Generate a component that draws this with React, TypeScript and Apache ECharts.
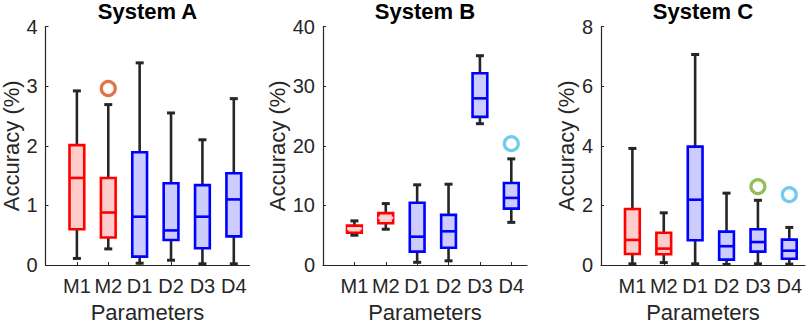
import React, { useEffect, useRef } from "react";
import * as echarts from "echarts";

const categories = ["M1", "M2", "D1", "D2", "D3", "D4"];
const panelTitles = ["System A", "System B", "System C"];
const yMax = [4, 40, 8];
const yInterval = [1, 10, 2];

// [low whisker, Q1, median, Q3, high whisker] per category
const boxesA = [
  [0.11, 0.6, 1.46, 2.01, 2.92],
  [0.27, 0.46, 0.88, 1.46, 2.69],
  [0.03, 0.14, 0.81, 1.89, 3.39],
  [0.08, 0.42, 0.58, 1.37, 2.55],
  [0.02, 0.28, 0.81, 1.34, 2.1],
  [0.02, 0.48, 1.1, 1.54, 2.79],
];
const boxesB = [
  [5.0, 5.4, 6.1, 6.6, 7.4],
  [6.0, 7.0, 7.9, 8.7, 10.3],
  [0.45, 2.25, 4.75, 10.45, 13.45],
  [0.7, 2.9, 5.65, 8.4, 13.55],
  [23.7, 24.85, 27.95, 32.15, 35.1],
  [7.15, 9.45, 11.25, 13.75, 17.8],
];
const boxesC = [
  [0.04, 0.37, 0.84, 1.88, 3.91],
  [0.08, 0.36, 0.55, 1.08, 1.75],
  [0.04, 0.83, 2.19, 3.97, 7.06],
  [0.02, 0.18, 0.63, 1.12, 2.41],
  [0.04, 0.45, 0.77, 1.2, 2.17],
  [0.03, 0.21, 0.48, 0.85, 1.26],
];
// outliers: [category index (1-based), value]
const outliersA = [[2, 2.96]];
const outliersB = [[6, 20.35]];
const outliersC = [[5, 2.63], [6, 2.36]];
const outlierColorsA = ["#D95319"];
const outlierColorsB = ["#4DBEEE"];
const outlierColorsC = ["#77AC30", "#4DBEEE"];

const allBoxes = [boxesA, boxesB, boxesC];
const allOutliers = [outliersA, outliersB, outliersC];
const allOutlierColors = [outlierColorsA, outlierColorsB, outlierColorsC];
// panels whose red (model) boxes show a pale median line
const paleMedianPanels = [1];

const FONT = "'Liberation Sans', Arial, Helvetica, sans-serif";
const AXIS = "#262626";
const gridLefts = [45.5, 323, 601];
const gridWidth = 204;
const gridTop = 26.5;
const gridHeight = 238.5;

export default function App() {
  const ref = useRef<HTMLDivElement>(null);
  useEffect(() => {
    if (!ref.current) return;
    const chart = echarts.init(ref.current, null, { renderer: "svg" });

    const grids = gridLefts.map((l) => ({
      left: l,
      top: gridTop,
      width: gridWidth,
      height: gridHeight,
      containLabel: false,
      outerBoundsMode: "none",
    }));

    const xAxes = gridLefts.map((_, i) => ({
      type: "value",
      gridIndex: i,
      min: 0,
      max: 6.5,
      splitLine: { show: false },
      axisLine: { show: true, lineStyle: { color: AXIS, width: 1.2 } },
      axisTick: {
        show: true,
        inside: true,
        length: 3,
        lineStyle: { color: AXIS },
        customValues: [1, 2, 3, 4, 5, 6],
      },
      axisLabel: {
        customValues: [1, 2, 3, 4, 5, 6],
        formatter: (v: number) => categories[Math.round(v) - 1] ?? "",
        color: AXIS,
        fontSize: 20,
        fontFamily: FONT,
        margin: 11,
      },
      name: "Parameters",
      nameLocation: "middle",
      nameGap: 36,
      nameTextStyle: { color: AXIS, fontSize: 22, fontFamily: FONT },
    }));

    const yAxes = gridLefts.map((_, i) => ({
      type: "value",
      gridIndex: i,
      min: 0,
      max: yMax[i],
      interval: yInterval[i],
      splitLine: { show: false },
      axisLine: { show: true, lineStyle: { color: AXIS, width: 1.2 } },
      axisTick: { show: true, inside: true, length: 3, lineStyle: { color: AXIS } },
      axisLabel: { color: AXIS, fontSize: 20, fontFamily: FONT, margin: 8 },
      name: "Accuracy (%)",
      nameLocation: "middle",
      nameGap: 21,
      nameTextStyle: { color: AXIS, fontSize: 22, fontFamily: FONT },
    }));

    const series: any[] = [];
    allBoxes.forEach((boxes, p) => {
      const data = boxes.map((b, i) => [i + 1, ...b]);
      series.push({
        type: "custom",
        xAxisIndex: p,
        yAxisIndex: p,
        data,
        encode: { x: 0, y: [1, 2, 3, 4, 5] },
        renderItem: (params: any, api: any) => {
          const x = api.value(0);
          const lo = api.value(1);
          const q1 = api.value(2);
          const med = api.value(3);
          const q3 = api.value(4);
          const hi = api.value(5);
          const cx = api.coord([x, 0])[0];
          const half = api.size([0.47, 0])[0] / 2;
          const y = (v: number) => api.coord([x, v])[1];
          const isModel = x <= 2;
          const edge = isModel ? "#FF0000" : "#0000FF";
          const fill = isModel ? "#FFCCCC" : "#CCCCFF";
          const medColor = isModel && paleMedianPanels.includes(p) ? "#FFD9D9" : edge;
          const wStyle = { stroke: "#262626", lineWidth: 2.6 };
          const capStyle = { stroke: "#262626", lineWidth: 3 };
          const capHalf = 4;
          return {
            type: "group",
            children: [
              { type: "line", shape: { x1: cx, y1: y(q3), x2: cx, y2: y(hi) }, style: wStyle },
              { type: "line", shape: { x1: cx, y1: y(q1), x2: cx, y2: y(lo) }, style: wStyle },
              { type: "line", shape: { x1: cx - capHalf, y1: y(hi), x2: cx + capHalf, y2: y(hi) }, style: capStyle },
              { type: "line", shape: { x1: cx - capHalf, y1: y(lo), x2: cx + capHalf, y2: y(lo) }, style: capStyle },
              {
                type: "rect",
                shape: { x: cx - half, y: y(q3), width: half * 2, height: y(q1) - y(q3) },
                style: { fill, stroke: edge, lineWidth: 2.6 },
              },
              {
                type: "line",
                shape: { x1: cx - half, y1: y(med), x2: cx + half, y2: y(med) },
                style: { stroke: medColor, lineWidth: 2.6 },
              },
            ],
          };
        },
        z: 2,
      });
      series.push({
        type: "scatter",
        xAxisIndex: p,
        yAxisIndex: p,
        symbol: "circle",
        symbolSize: 14,
        data: allOutliers[p].map((o, k) => ({
          value: o,
          itemStyle: { color: "rgba(0,0,0,0)", borderColor: allOutlierColors[p][k], borderWidth: 3.2 },
        })),
        z: 3,
      });
    });

    const graphic = panelTitles.map((t, i) => ({
      type: "text",
      x: gridLefts[i] + gridWidth / 2,
      y: 11,
      style: {
        text: t,
        textAlign: "center",
        textVerticalAlign: "middle",
        fontSize: 22,
        fontWeight: "bold",
        fontFamily: FONT,
        fill: "#000000",
      },
    }));

    chart.setOption({
      animation: false,
      backgroundColor: "#ffffff",
      grid: grids,
      xAxis: xAxes,
      yAxis: yAxes,
      series,
      graphic,
    } as any);
    return () => chart.dispose();
  }, []);
  return (
    <div
      ref={ref}
      style={{ position: "fixed", left: 0, top: 0, width: 806, height: 325, background: "#fff" }}
    />
  );
}
